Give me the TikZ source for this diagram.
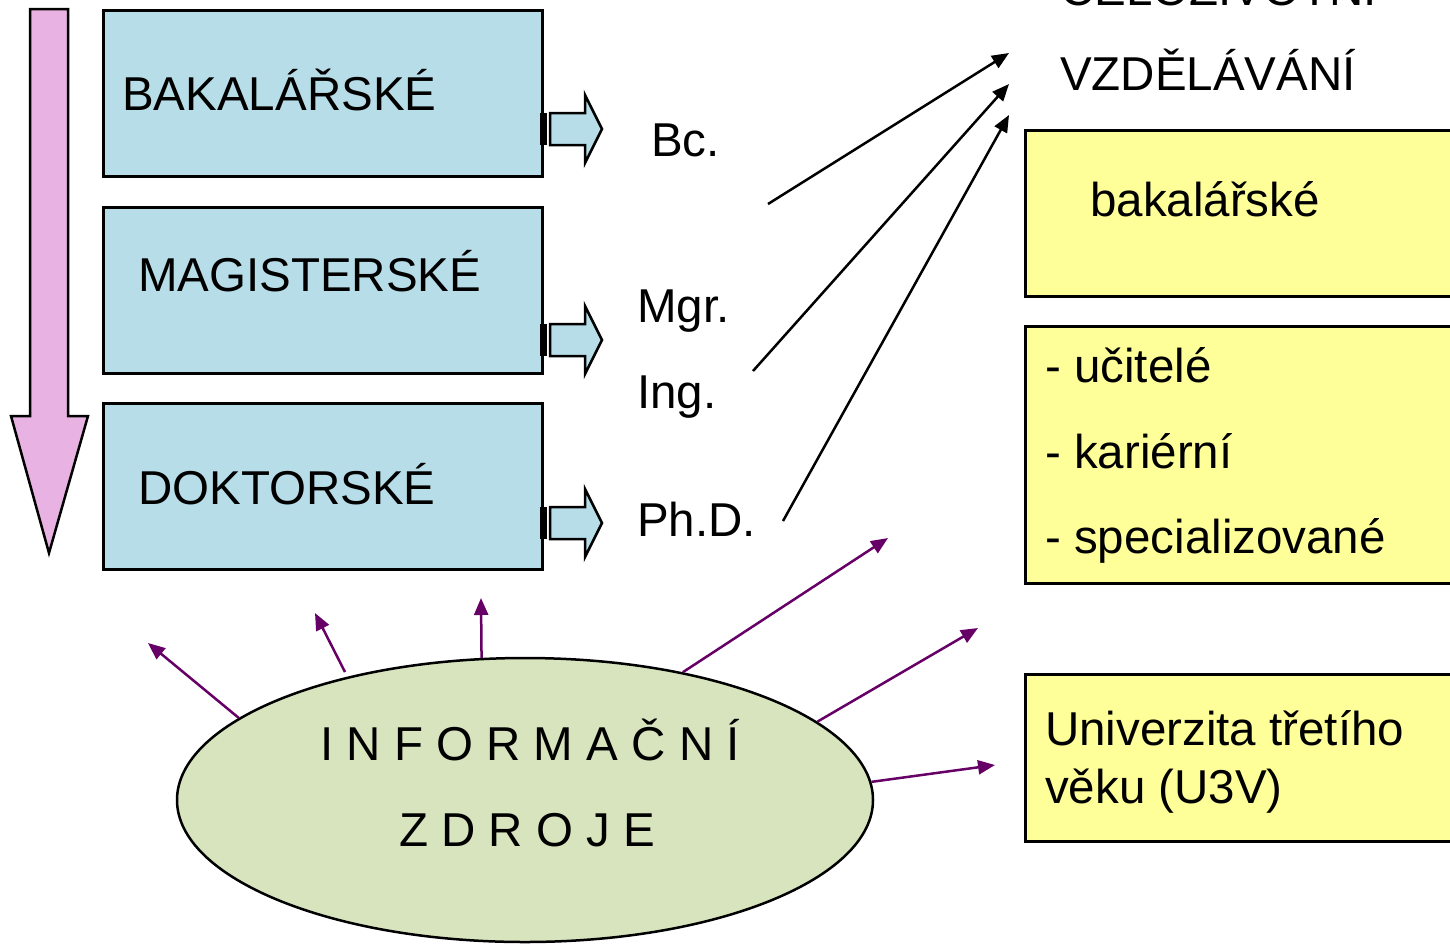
\documentclass[tikz,border=0pt]{standalone}
\usepackage{fontspec}
\setmainfont{Liberation Sans}
\usetikzlibrary{arrows.meta,shapes.geometric}
\definecolor{boxblue}{HTML}{B7DEE8}
\definecolor{boxyellow}{HTML}{FFFF99}
\definecolor{pinkarrow}{HTML}{E8B2E2}
\definecolor{ellgreen}{HTML}{D7E4BD}
\definecolor{darkpurple}{HTML}{660066}
\tikzset{
  bluebox/.style={draw=black,line width=2.5pt,fill=boxblue,rectangle,anchor=north west,inner sep=0pt},
  yellowbox/.style={draw=black,line width=2.5pt,fill=boxyellow,rectangle,anchor=north west,inner sep=0pt},
  lbl/.style={anchor=base west,inner sep=0pt,font=\fontsize{47.5}{57}\selectfont},
  blockarrow/.style={draw=black,line width=2.5pt,fill=boxblue,line join=miter},
  blackarrow/.style={draw=black,line width=2.5pt,-{Triangle[length=17pt,width=14pt]}},
  purplearrow/.style={draw=darkpurple,line width=2.5pt,-{Triangle[length=17pt,width=14pt]}}
}
\begin{document}
\begin{tikzpicture}[x=1pt,y=-1pt]
\useasboundingbox (0,0) rectangle (1450,943);
\clip (0,0) rectangle (1450,943);

% pink vertical arrow
\draw[fill=pinkarrow,line width=2.5pt,line join=miter]
  (30,9) -- (68,9) -- (68,416) -- (88,416) -- (49,553) -- (11,416) -- (30,416) -- cycle;

% blue boxes
\node[bluebox,minimum width=439pt,minimum height=166pt] (bakbox) at (102,9) {};
\node[bluebox,minimum width=439pt,minimum height=166pt] (magbox) at (102,206) {};
\node[bluebox,minimum width=439pt,minimum height=166pt] (dokbox) at (102,402) {};
\node[lbl] (baktext) at (122,110) {BAKALÁŘSKÉ};
\node[lbl] (magtext) at (138,291) {MAGISTERSKÉ};
\node[lbl] (doktext) at (138,504) {DOKTORSKÉ};

% striped block arrows
\foreach \c in {129,340,523}{
  \fill[black] (540,\c-16) rectangle (547,\c+16);
  \draw[blockarrow] (550,\c-16) -- (585,\c-16) -- (585,\c-34) -- (602,\c) -- (585,\c+34) -- (585,\c+16) -- (550,\c+16) -- cycle;
}

% degree labels
\node[lbl] (bc) at (651,156) {Bc.};
\node[lbl] (mgr) at (637,322) {Mgr.};
\node[lbl] (ing) at (637,408) {Ing.};
\node[lbl] (phd) at (637,536) {Ph.D.};

% right column
\node[lbl] (celoz) at (1060,5) {CELOŽIVOTNÍ};
\node[lbl] (vzdel) at (1060,90) {VZDĚLÁVÁNÍ};
\node[yellowbox,minimum width=450pt,minimum height=166pt] (ybox1) at (1024,129) {};
\node[yellowbox,minimum width=450pt,minimum height=257pt] (ybox2) at (1024,325) {};
\node[yellowbox,minimum width=450pt,minimum height=167pt] (ybox3) at (1024,673) {};
\node[lbl] (ybak) at (1090,216) {bakalářské};
\node[lbl] (yuc) at (1045,382) {- učitelé};
\node[lbl] (ykar) at (1045,468) {- kariérní};
\node[lbl] (yspec) at (1045,553) {- specializované};
\node[lbl] (yu3v1) at (1045,745) {Univerzita třetího};
\node[lbl] (yu3v2) at (1045,803) {věku (U3V)};

% black arrows
\coordinate (s1) at (768,204);
\coordinate (s2) at (753,371);
\coordinate (s3) at (783,521);
\coordinate (e1) at (1009,53);
\coordinate (e2) at (1009,84);
\coordinate (e3) at (1009,115);
\draw[blackarrow] (s1) -- (e1);
\draw[blackarrow] (s2) -- (e2);
\draw[blackarrow] (s3) -- (e3);

% ellipse
\node[ellipse,draw=black,line width=2.5pt,fill=ellgreen,minimum width=696pt,minimum height=284pt,inner sep=0pt] (ell) at (525,800) {};
\node[lbl] (inf) at (320,760) {I N F O R M A Č N Í};
\node[lbl] (zdr) at (399,846) {Z D R O J E};

% purple arrows
\coordinate (p1) at (148,643);
\coordinate (p2) at (315,613);
\coordinate (p3) at (481,598);
\coordinate (p4) at (888,538);
\coordinate (p5) at (978,628);
\coordinate (p6) at (995,765);
\draw[purplearrow] (ell.164) -- (p1);
\draw[purplearrow] (345,672) coordinate (q2) -- (p2);
\draw[purplearrow] (ell.107.2) -- (p3);
\draw[purplearrow] (ell.39.9) -- (p4);
\draw[purplearrow] (ell.15.9) -- (p5);
\draw[purplearrow] (ell.3.6) -- (p6);
\end{tikzpicture}
\end{document}
